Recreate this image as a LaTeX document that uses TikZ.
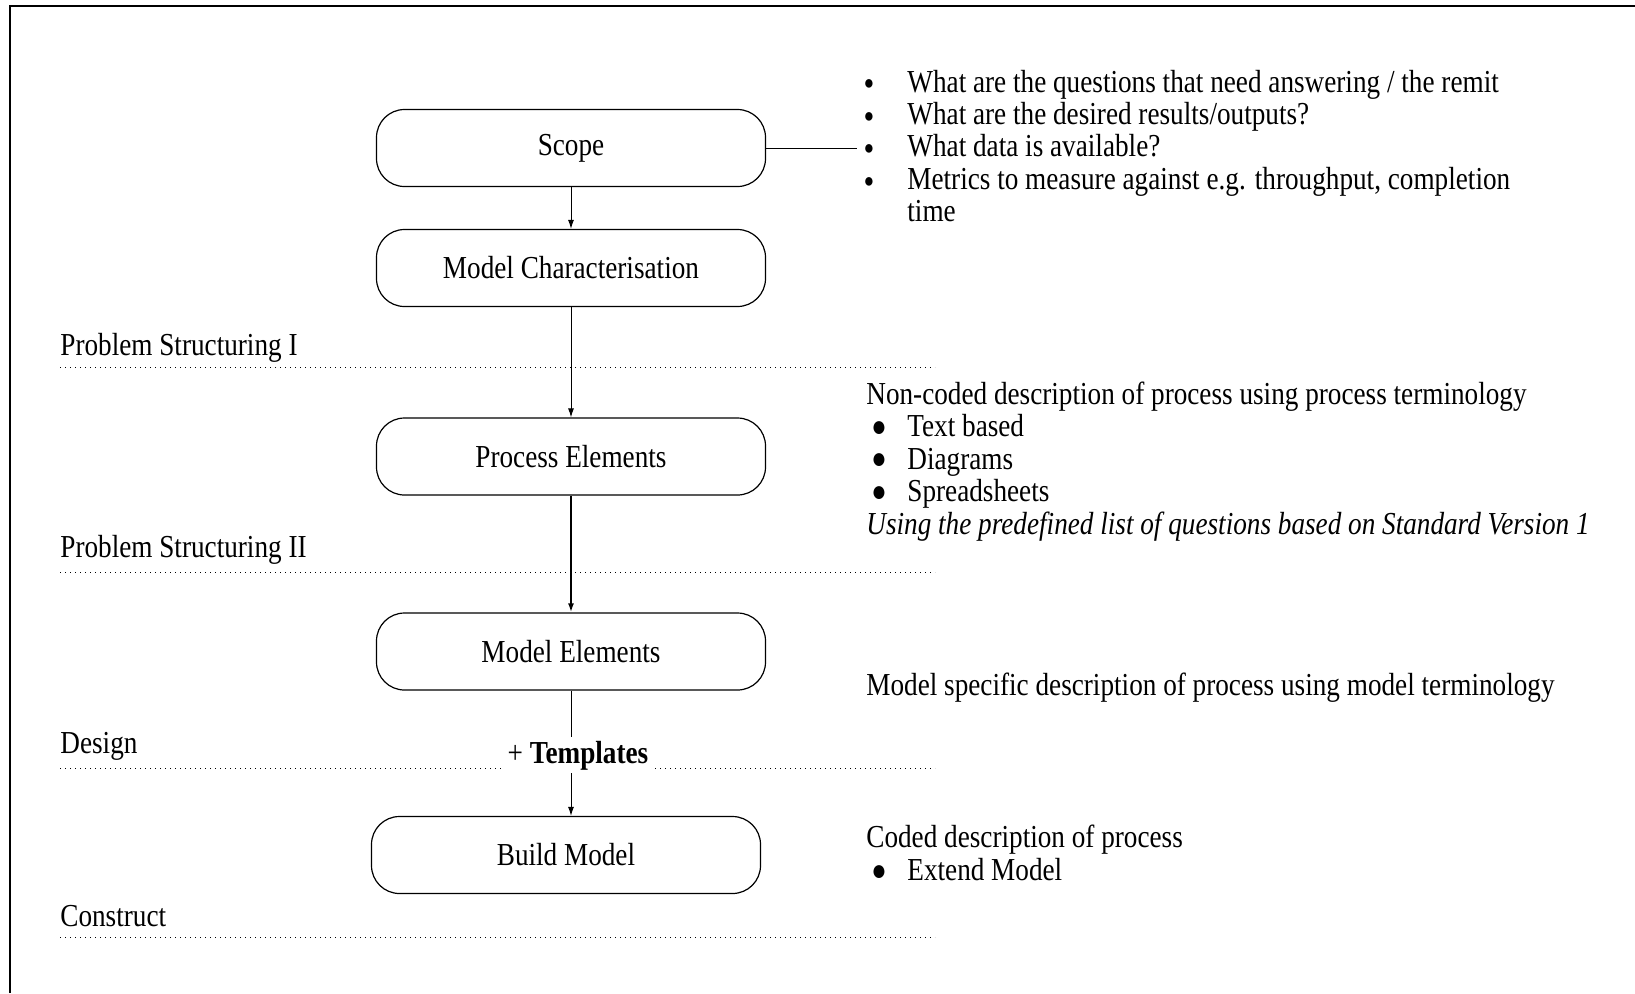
\documentclass[tikz,border=0pt]{standalone}
\usepackage{fontspec}
\setmainfont[FakeStretch=0.85]{Liberation Serif}
\usetikzlibrary{arrows.meta}

\begin{document}
\begin{tikzpicture}[x=0.5pt, y=-0.5pt,
    every node/.style={font=\fontsize{16}{16}\selectfont, inner sep=0pt},
    stage/.style={draw, line width=0.6pt, rounded corners=14pt, minimum width=194.5pt, minimum height=38.5pt, inner sep=2pt},
    txt/.style={anchor=base west},
    bigbul/.style={anchor=center, font=\fontsize{15}{15}\selectfont},
    smallbul/.style={anchor=center, font=\fontsize{10}{10}\selectfont},
    sep/.style={line width=0.5pt, dotted},
    arr/.style={line width=0.5pt, -{Latex[length=4.5pt,width=3pt]}}]
  \useasboundingbox (0,0) rectangle (1635,993);
  \draw[line width=0.7pt] (10,993) -- (10,6) -- (1635,6);

  % stages
  \node[stage] (scope) at (571,148) {Scope};
  \node[stage] (mchar) at (571,268) {Model Characterisation};
  \node[stage] (procel) at (571,456.5) {Process Elements};
  \node[stage] (modelel) at (571,651.5) {Model Elements};
  \node[stage] (build) at (566,855) {Build Model};

  % phases
  \node[txt] (psI) at (60,355) {Problem Structuring I};
  \draw[sep] (60,367) -- (935,367);
  \node[txt] (psII) at (60,557.5) {Problem Structuring II};
  \draw[sep] (60,572) -- (935,572);
  \node[txt] (design) at (60,753.5) {Design};
  \draw[sep] (60,768.5) -- (935,768.5);
  \node[txt] (construct) at (60,926.5) {Construct};
  \draw[sep] (60,937) -- (935,937);

  \node[anchor=base, fill=white, inner sep=1.5pt] (tmpl) at (578,763) {+ \textbf{Templates}};

  % flow
  \draw[arr] (scope) -- (mchar);
  \draw[arr] (mchar) -- (procel);
  \draw[arr, line width=0.9pt] (procel) -- (modelel);
  \draw[line width=0.5pt] (modelel.south) -- (modelel.south |- tmpl.north);
  \draw[arr] (modelel.south |- tmpl.south) -- (modelel.south |- build.north);

  % scope notes
  \coordinate (qdot) at (857,148);
  \draw[line width=0.5pt] (scope) -- (qdot);
  \node[smallbul] (q1b) at (869,85) {●};
  \node[txt] (q1) at (907,92) {What are the questions that need answering / the remit};
  \node[smallbul] (q2b) at (869,117.4) {●};
  \node[txt] (q2) at (907,124.4) {What are the desired results/outputs?};
  \node[smallbul] (q3b) at (869,149.8) {●};
  \node[txt] (q3) at (907,156.8) {What data is available?};
  \node[smallbul] (q4b) at (869,182.2) {●};
  \node[txt] (q4) at (907,189.2) {Metrics to measure against e.g. throughput, completion};
  \node[txt] (q4b2) at (907,221.6) {time};

  % process elements notes
  \node[txt] (pe0) at (866,404) {Non-coded description of process using process terminology};
  \node[bigbul] (pe1b) at (879,429) {●};
  \node[txt] (pe1) at (907,436.5) {Text based};
  \node[bigbul] (pe2b) at (879,461.5) {●};
  \node[txt] (pe2) at (907,469) {Diagrams};
  \node[bigbul] (pe3b) at (879,494) {●};
  \node[txt] (pe3) at (907,501.5) {Spreadsheets};
  \node[txt] (pe4) at (866,534) {\itshape Using the predefined list of questions based on Standard Version 1};

  % model elements notes
  \node[txt] (me0) at (866,695) {Model specific description of process using model terminology};

  % build notes
  \node[txt] (bm0) at (866,847) {Coded description of process};
  \node[bigbul] (bm1b) at (879,873) {●};
  \node[txt] (bm1) at (907,880.5) {Extend Model};
\end{tikzpicture}
\end{document}
